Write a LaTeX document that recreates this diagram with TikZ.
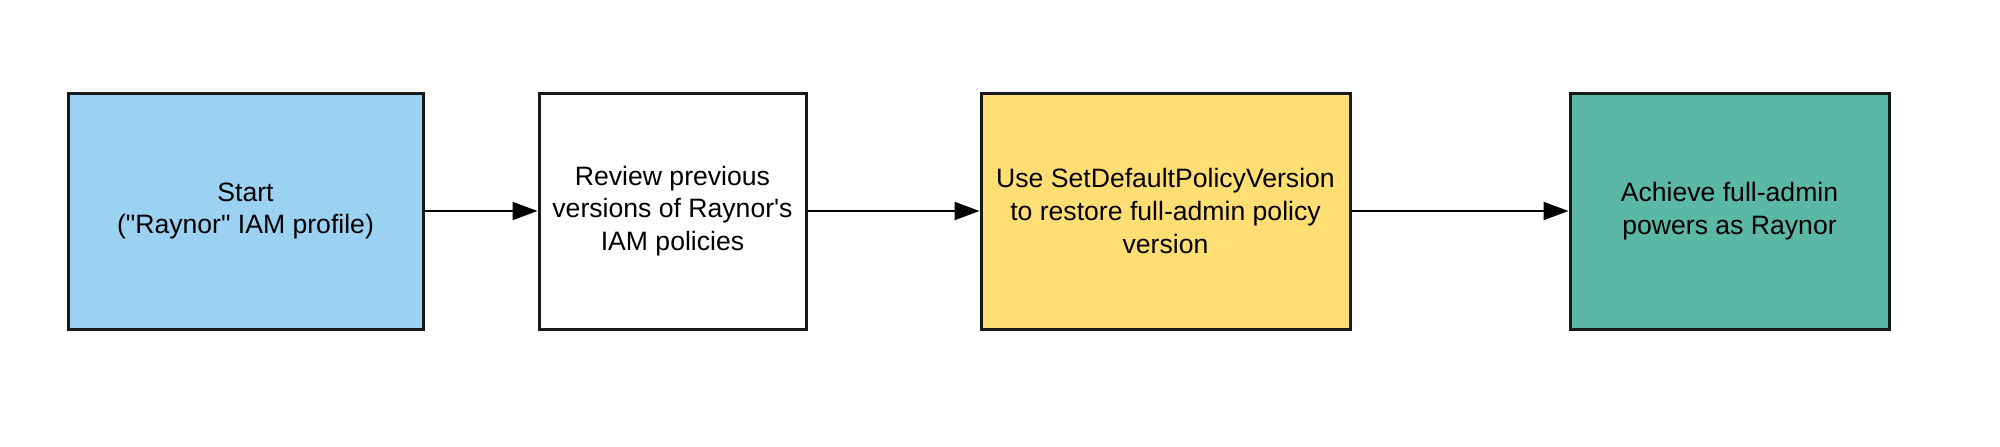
\documentclass[tikz,border=0pt]{standalone}
\usepackage{fontspec}
\setmainfont{Liberation Sans}
\usetikzlibrary{arrows.meta}
\definecolor{cblue}{RGB}{155,210,242}
\definecolor{cyellow}{RGB}{255,222,115}
\definecolor{cgreen}{RGB}{91,184,166}
\begin{document}
\begin{tikzpicture}[x=0.5pt,y=-0.5pt,
  stepbox/.style={draw=black!90, line width=1.5pt, minimum height=118pt, align=center,
    font=\fontsize{13.3pt}{16.3pt}\selectfont, inner sep=0pt},
  flow/.style={line width=1pt, -{Triangle[length=12.5pt,width=9pt]}}]
\useasboundingbox (0,0) rectangle (2000,446);
\node[stepbox, fill=cblue, minimum width=177.5pt] (a) at (245.5,211) {Start\\(\textquotedbl Raynor\textquotedbl{} IAM profile)};
\node[stepbox, fill=white, minimum width=133.5pt] (b) at (672.5,211) {Review previous\\versions of Raynor\textquotesingle s\\IAM policies};
\node[stepbox, fill=cyellow, minimum width=184.5pt] (c) at (1165.5,211) {Use SetDefaultPolicyVersion\\to restore full-admin policy\\version};
\node[stepbox, fill=cgreen, minimum width=159.5pt] (d) at (1729.5,211) {Achieve full-admin\\powers as Raynor};
\draw[flow] (a) -- (b);
\draw[flow] (b) -- (c);
\draw[flow] (c) -- (d);
\end{tikzpicture}
\end{document}
